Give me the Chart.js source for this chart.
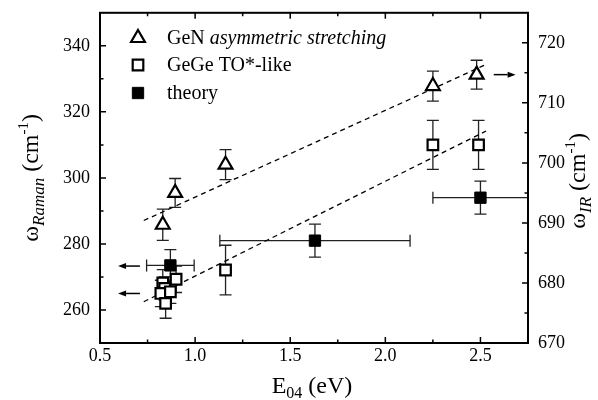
<!DOCTYPE html>
<html>
<head>
<meta charset="utf-8">
<script src="https://cdn.jsdelivr.net/npm/chart.js@4.4.1/dist/chart.umd.min.js"></script>
<style>
  html, body { margin: 0; padding: 0; background: #fff; }
  #wrap { width: 598px; height: 400px; }
</style>
</head>
<body>
<div id="wrap"><canvas id="chart" width="598" height="400"></canvas></div>
<script>
// GeN asymmetric stretching (IR, right axis)
const genE   = [0.83, 0.895, 1.16, 2.25, 2.48];
const genIR  = [689.7, 695.0, 699.7, 712.8, 714.7];
const genErr = [2.6, 2.4, 2.5, 2.5, 2.4];

// GeGe TO*-like (Raman, left axis)
const gegeE      = [0.83, 0.84, 0.82, 0.87, 0.845, 0.9, 1.16, 2.25, 2.49];
const gegeRaman  = [268.2, 266.5, 265, 265.5, 262, 269.3, 272.1, 310, 310];
const gegeErr    = [4, 3.5, 4, 3.5, 4.5, 4, 7.5, 7.4, 7.4];

// theory (Raman, left axis)
const theoryE     = [0.87, 1.63, 2.5];
const theoryRaman = [273.5, 281, 294];
const theoryXErr  = [0.125, 0.5, 0.25];
const theoryYErr  = [4.8, 5, 5];

// dashed linear guides
const fitE         = [0.73, 2.53];
const genFitIR     = [690.4, 716.4];
const gegeFitRaman = [262.5, 314.2];

// arrows pointing to the axis that applies
const leftArrowRaman = [273.3, 265];
const leftArrowE     = [0.71, 0.595];
const rightArrowIR   = 714.7;
const rightArrowE    = [2.57, 2.685];

// ticks
const xTicks  = [0.5, 1.0, 1.5, 2.0, 2.5];
const xMinor  = [0.75, 1.25, 1.75, 2.25];
const yTicks  = [260, 280, 300, 320, 340];
const yMinor  = [270, 290, 310, 330];
const y2Ticks = [670, 680, 690, 700, 710, 720];
const y2Minor = [675, 685, 695, 705, 715];

const SERIF = "'Liberation Serif', 'Times New Roman', serif";
Chart.defaults.color = '#000';
Chart.defaults.font.family = SERIF;

const toPts = (xs, ys) => xs.map((x, i) => ({ x: x, y: ys[i] }));

// -------------------------------------------------------------------
// error bars, drawn under the markers
// -------------------------------------------------------------------
const errorBars = {
  id: 'errorBars',
  beforeDatasetsDraw(chart) {
    const ctx = chart.ctx;
    const xs = chart.scales.x;
    ctx.save();
    ctx.strokeStyle = '#222';
    ctx.lineWidth = 1.3;
    chart.data.datasets.forEach(ds => {
      if (!ds.errY) return;
      const ys = chart.scales[ds.yAxisID];
      ds.data.forEach((p, j) => {
        const px = xs.getPixelForValue(p.x);
        const ey = ds.errY[j];
        const top = ys.getPixelForValue(p.y + ey);
        const bot = ys.getPixelForValue(p.y - ey);
        const cap = 6;
        ctx.beginPath();
        ctx.moveTo(px, top); ctx.lineTo(px, bot);
        ctx.moveTo(px - cap, top); ctx.lineTo(px + cap, top);
        ctx.moveTo(px - cap, bot); ctx.lineTo(px + cap, bot);
        if (ds.errX) {
          const py = ys.getPixelForValue(p.y);
          const l = xs.getPixelForValue(p.x - ds.errX[j]);
          const r = xs.getPixelForValue(p.x + ds.errX[j]);
          ctx.moveTo(l, py); ctx.lineTo(r, py);
          ctx.moveTo(l, py - cap); ctx.lineTo(l, py + cap);
          ctx.moveTo(r, py - cap); ctx.lineTo(r, py + cap);
        }
        ctx.stroke();
      });
    });
    ctx.restore();
  }
};

// -------------------------------------------------------------------
// frame, inward ticks, arrows, titles, legend
// -------------------------------------------------------------------
function drawRich(ctx, parts, cx, cy, angle) {
  ctx.save();
  ctx.translate(cx, cy);
  ctx.rotate(angle);
  let w = 0;
  parts.forEach(p => { ctx.font = p.font; w += ctx.measureText(p.t).width; });
  let x = -w / 2;
  ctx.textAlign = 'left';
  ctx.textBaseline = 'alphabetic';
  ctx.fillStyle = '#000';
  parts.forEach(p => {
    ctx.font = p.font;
    ctx.fillText(p.t, x, p.dy || 0);
    x += ctx.measureText(p.t).width;
  });
  ctx.restore();
}

function arrow(ctx, x1, y1, x2, y2) {
  const a = Math.atan2(y2 - y1, x2 - x1);
  const len = 8, hw = 3;
  ctx.beginPath();
  ctx.moveTo(x1, y1);
  ctx.lineTo(x2 - Math.cos(a) * len, y2 - Math.sin(a) * len);
  ctx.stroke();
  ctx.beginPath();
  ctx.moveTo(x2, y2);
  ctx.lineTo(x2 - Math.cos(a) * len - Math.sin(a) * hw, y2 - Math.sin(a) * len + Math.cos(a) * hw);
  ctx.lineTo(x2 - Math.cos(a) * len + Math.sin(a) * hw, y2 - Math.sin(a) * len - Math.cos(a) * hw);
  ctx.closePath();
  ctx.fill();
}

const decorations = {
  id: 'decorations',
  afterDraw(chart) {
    const ctx = chart.ctx;
    const a = chart.chartArea;
    const xs = chart.scales.x, ys = chart.scales.y, y2s = chart.scales.y2;
    ctx.save();
    ctx.strokeStyle = '#000';
    ctx.fillStyle = '#000';

    // frame
    ctx.lineWidth = 2;
    ctx.strokeRect(a.left, a.top, a.right - a.left, a.bottom - a.top);

    // ticks pointing inward
    ctx.lineWidth = 1.5;
    const major = 6, minor = 3.5;
    ctx.beginPath();
    xTicks.concat(xMinor).forEach(v => {
      const px = xs.getPixelForValue(v);
      const l = xMinor.includes(v) ? minor : major;
      ctx.moveTo(px, a.bottom); ctx.lineTo(px, a.bottom - l);
      ctx.moveTo(px, a.top); ctx.lineTo(px, a.top + l);
    });
    yTicks.concat(yMinor).forEach(v => {
      const py = ys.getPixelForValue(v);
      const l = yMinor.includes(v) ? minor : major;
      ctx.moveTo(a.left, py); ctx.lineTo(a.left + l, py);
    });
    y2Ticks.concat(y2Minor).forEach(v => {
      const py = y2s.getPixelForValue(v);
      const l = y2Minor.includes(v) ? minor : major;
      ctx.moveTo(a.right, py); ctx.lineTo(a.right - l, py);
    });
    ctx.stroke();

    // arrows
    ctx.lineWidth = 1.5;
    leftArrowRaman.forEach(v => {
      const py = ys.getPixelForValue(v);
      arrow(ctx, xs.getPixelForValue(leftArrowE[0]), py, xs.getPixelForValue(leftArrowE[1]), py);
    });
    const pr = y2s.getPixelForValue(rightArrowIR);
    arrow(ctx, xs.getPixelForValue(rightArrowE[0]), pr, xs.getPixelForValue(rightArrowE[1]), pr);

    // axis titles
    const big = '24px ' + SERIF, sub = 'italic 17px ' + SERIF, sup = '15px ' + SERIF;
    drawRich(ctx, [
      { t: '\u03c9', font: big },
      { t: 'Raman', font: sub, dy: 6 },
      { t: ' (cm', font: big },
      { t: '-1', font: sup, dy: -10 },
      { t: ')', font: big }
    ], 38, (a.top + a.bottom) / 2, -Math.PI / 2);
    drawRich(ctx, [
      { t: '\u03c9', font: big },
      { t: 'IR', font: sub, dy: 6 },
      { t: ' (cm', font: big },
      { t: '-1', font: sup, dy: -10 },
      { t: ')', font: big }
    ], 585, (a.top + a.bottom) / 2 + 3, -Math.PI / 2);
    drawRich(ctx, [
      { t: 'E', font: big },
      { t: '04', font: '16px ' + SERIF, dy: 5 },
      { t: ' (eV)', font: big }
    ], 312, 393, 0);

    // legend
    const rows = [
      { ds: 0, y: 38, parts: [{ t: 'GeN ', font: '20px ' + SERIF }, { t: 'asymmetric stretching', font: 'italic 20px ' + SERIF }] },
      { ds: 1, y: 65, parts: [{ t: 'GeGe TO*-like', font: '20px ' + SERIF }] },
      { ds: 2, y: 93, parts: [{ t: 'theory', font: '20px ' + SERIF }] }
    ];
    rows.forEach(r => {
      const d = chart.data.datasets[r.ds];
      ctx.fillStyle = d.backgroundColor;
      ctx.strokeStyle = d.borderColor;
      ctx.lineWidth = d.borderWidth;
      Chart.helpers.drawPoint(ctx, { pointStyle: d.pointStyle, radius: d.pointRadius, rotation: 0, borderWidth: d.borderWidth }, 138, r.y);
      let x = 167;
      ctx.fillStyle = '#000';
      ctx.textAlign = 'left';
      ctx.textBaseline = 'alphabetic';
      r.parts.forEach(p => {
        ctx.font = p.font;
        ctx.fillText(p.t, x, r.y + 6);
        x += ctx.measureText(p.t).width;
      });
    });
    ctx.restore();
  }
};

const setTicks = list => scale => { scale.ticks = list.map(v => ({ value: v })); };

new Chart(document.getElementById('chart'), {
  type: 'scatter',
  data: {
    datasets: [
      {
        label: 'GeN asymmetric stretching',
        data: toPts(genE, genIR),
        yAxisID: 'y2',
        errY: genErr,
        pointStyle: 'triangle',
        pointRadius: 8,
        backgroundColor: '#fff',
        borderColor: '#000',
        borderWidth: 2.2
      },
      {
        label: 'GeGe TO*-like',
        data: toPts(gegeE, gegeRaman),
        yAxisID: 'y',
        errY: gegeErr,
        pointStyle: 'rect',
        pointRadius: 7.5,
        backgroundColor: '#fff',
        borderColor: '#000',
        borderWidth: 2.2
      },
      {
        label: 'theory',
        data: toPts(theoryE, theoryRaman),
        yAxisID: 'y',
        errY: theoryYErr,
        errX: theoryXErr,
        pointStyle: 'rect',
        pointRadius: 8,
        backgroundColor: '#000',
        borderColor: '#000',
        borderWidth: 1
      },
      {
        data: toPts(fitE, genFitIR),
        yAxisID: 'y2',
        showLine: true,
        pointRadius: 0,
        borderColor: '#000',
        borderWidth: 1.3,
        borderDash: [5, 4]
      },
      {
        data: toPts(fitE, gegeFitRaman),
        yAxisID: 'y',
        showLine: true,
        pointRadius: 0,
        borderColor: '#000',
        borderWidth: 1.3,
        borderDash: [5, 4]
      }
    ]
  },
  options: {
    responsive: false,
    animation: false,
    devicePixelRatio: 1,
    layout: { padding: { top: 12, left: 0, right: 0, bottom: 0 } },
    plugins: { legend: { display: false }, tooltip: { enabled: false } },
    scales: {
      x: {
        type: 'linear', min: 0.5, max: 2.75,
        grid: { display: false }, border: { display: false },
        afterBuildTicks: setTicks(xTicks),
        afterFit: s => { s.height = 57; },
        ticks: { font: { size: 18 }, padding: -6, maxRotation: 0, callback: v => v.toFixed(1) }
      },
      y: {
        type: 'linear', position: 'left', min: 250, max: 350,
        grid: { display: false }, border: { display: false },
        afterBuildTicks: setTicks(yTicks),
        afterFit: s => { s.width = 100; },
        ticks: { font: { size: 18 }, padding: 2 }
      },
      y2: {
        type: 'linear', position: 'right', min: 670, max: 725,
        grid: { display: false }, border: { display: false },
        afterBuildTicks: setTicks(y2Ticks),
        afterFit: s => { s.width = 70; },
        ticks: { font: { size: 18 }, padding: 2 }
      }
    }
  },
  plugins: [errorBars, decorations]
});
</script>
</body>
</html>
